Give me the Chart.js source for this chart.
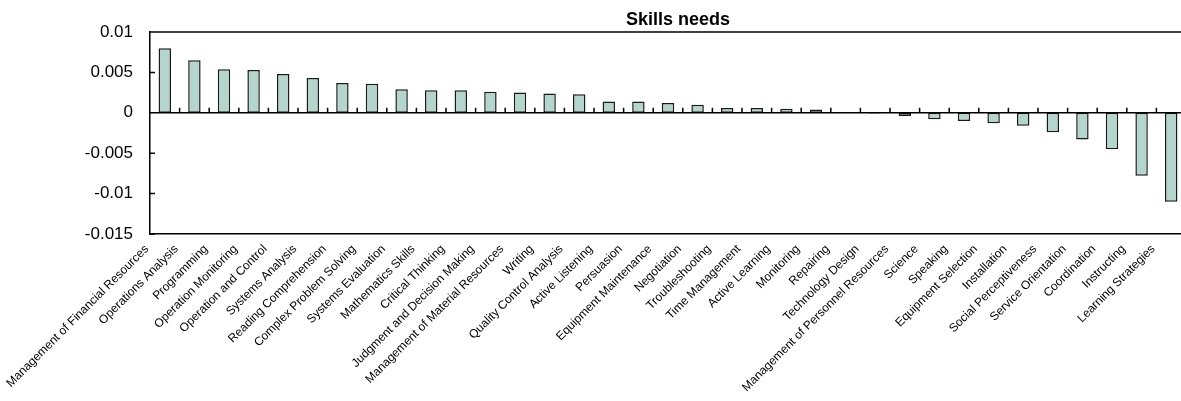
<!DOCTYPE html>
<html lang="en">
<head>
  <meta charset="UTF-8">
  <title>Skills needs</title>
  <script src="https://cdn.jsdelivr.net/npm/chart.js"></script>
  <style>
    html, body {
      margin: 0;
      padding: 0;
      background: #fff;
      overflow: hidden;
    }
    .chart-box {
      width: 1186px;
      height: 401px;
    }
  </style>
</head>
<body>
  <div class="chart-box">
    <canvas id="skills-chart"></canvas>
  </div>

  <script>
    const skills = [
      'Management of Financial Resources', 'Operations Analysis', 'Programming',
      'Operation Monitoring', 'Operation and Control', 'Systems Analysis',
      'Reading Comprehension', 'Complex Problem Solving', 'Systems Evaluation',
      'Mathematics Skills', 'Critical Thinking', 'Judgment and Decision Making',
      'Management of Material Resources', 'Writing', 'Quality Control Analysis',
      'Active Listening', 'Persuasion', 'Equipment Maintenance', 'Negotiation',
      'Troubleshooting', 'Time Management', 'Active Learning', 'Monitoring',
      'Repairing', 'Technology Design', 'Management of Personnel Resources',
      'Science', 'Speaking', 'Equipment Selection', 'Installation',
      'Social Perceptiveness', 'Service Orientation', 'Coordination',
      'Instructing', 'Learning Strategies'
    ];
    const needs = [
      0.0080, 0.0065, 0.0054, 0.0053, 0.0048, 0.0043, 0.0037, 0.0036, 0.0029,
      0.0028, 0.0028, 0.0026, 0.0025, 0.0024, 0.0023, 0.0014, 0.0014, 0.0012,
      0.0010, 0.0006, 0.0006, 0.0005, 0.0004, 0.0001, -0.0001, -0.0004,
      -0.0008, -0.0010, -0.0013, -0.0016, -0.0024, -0.0033, -0.0045, -0.0078,
      -0.0110
    ];
    const yTicks = [0.01, 0.005, 0, -0.005, -0.01, -0.015];
    const chartTitle = 'Skills needs';

    const FONT = "'Liberation Sans', Arial, sans-serif";

    // frame, zero line, inward tick marks and title
    const framePlugin = {
      id: 'frame',
      afterDraw(chart) {
        const { ctx, chartArea: a, scales: { x, y } } = chart;
        const zero = y.getPixelForValue(0);
        ctx.save();
        ctx.strokeStyle = '#000';
        ctx.lineWidth = 1.5;
        ctx.beginPath();
        ctx.moveTo(a.left, a.top);
        ctx.lineTo(a.right, a.top);
        ctx.moveTo(a.left, zero);
        ctx.lineTo(a.right, zero);
        // y ticks pointing inside
        yTicks.forEach(v => {
          const py = y.getPixelForValue(v);
          ctx.moveTo(a.left, py);
          ctx.lineTo(a.left + 5, py);
        });
        // x ticks between categories, above the zero line
        for (let i = 1; i <= skills.length; i++) {
          const px = (x.getPixelForValue(i - 1) + x.getPixelForValue(i)) / 2;
          ctx.moveTo(px, zero);
          ctx.lineTo(px, zero - 5);
        }
        ctx.stroke();

        ctx.fillStyle = '#000';
        ctx.font = "bold 18px " + FONT;
        ctx.textAlign = 'center';
        ctx.textBaseline = 'middle';
        ctx.fillText(chartTitle, (a.left + a.right) / 2 + 10, 20);
        ctx.restore();
      }
    };

    new Chart(document.getElementById('skills-chart'), {
      type: 'bar',
      data: {
        labels: skills,
        datasets: [{
          data: needs,
          backgroundColor: '#b4d5cc',
          borderColor: '#1a1a1a',
          borderWidth: 1.5,
          borderSkipped: false,
          categoryPercentage: 1,
          barPercentage: 0.42
        }]
      },
      options: {
        responsive: true,
        maintainAspectRatio: false,
        animation: false,
        devicePixelRatio: 1,
        layout: { padding: { top: 32, right: 0, left: 0, bottom: 0 } },
        plugins: {
          legend: { display: false },
          tooltip: { enabled: false }
        },
        scales: {
          x: {
            grid: { display: false },
            border: { display: true, color: '#000', width: 1.5 },
            afterFit(scale) { scale.height = 167; },
            ticks: {
              autoSkip: false,
              minRotation: 45,
              maxRotation: 45,
              padding: 0,
              labelOffset: -18,
              color: '#000',
              font: { family: FONT, size: 12 }
            }
          },
          y: {
            min: -0.015,
            max: 0.01,
            afterFit(scale) { scale.width = 150; },
            afterBuildTicks(scale) {
              scale.ticks = yTicks.map(v => ({ value: v }));
            },
            grid: { display: false },
            border: { display: true, color: '#000', width: 1.5 },
            ticks: {
              padding: 9,
              color: '#000',
              font: { family: FONT, size: 17 },
              callback: v => String(v)
            }
          }
        }
      },
      plugins: [framePlugin]
    });
  </script>
</body>
</html>
